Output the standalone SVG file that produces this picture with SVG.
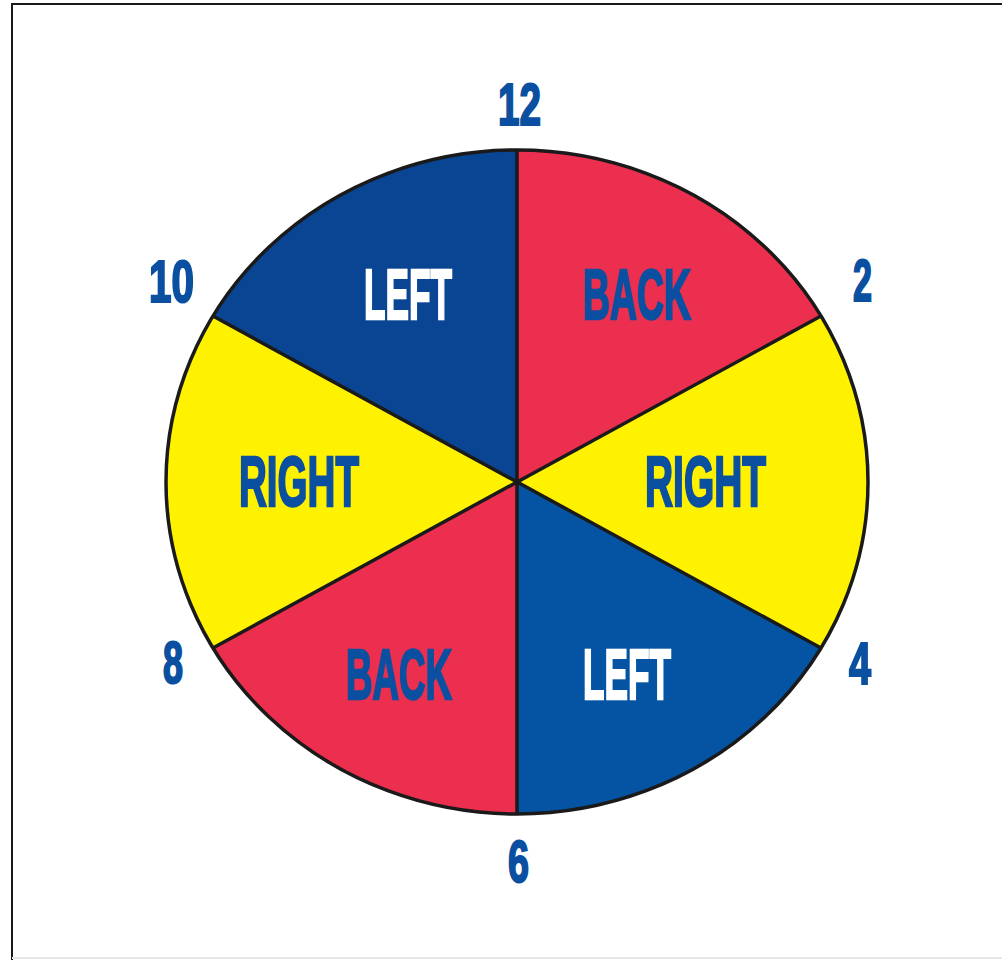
<svg xmlns="http://www.w3.org/2000/svg" width="1002" height="960" viewBox="0 0 1002 960">
<style>
.lbl{font-family:"Liberation Sans",Arial,sans-serif;font-weight:bold;font-size:70px;stroke-width:2.4;stroke-linejoin:miter}
.num{font-family:"Liberation Sans",Arial,sans-serif;font-weight:bold;font-size:59px;fill:#0b50a0;stroke:#0b50a0;stroke-width:2.2}
.blue{fill:#0b50a0;stroke:#0b50a0}
.white{fill:#ffffff;stroke:#ffffff}
.edge{fill:none;stroke:#1a1a1a;stroke-width:3.5}
</style>
<rect width="1002" height="960" fill="#ffffff"/>
<path d="M12,960 V4 H1002" fill="none" stroke="#1a1a1a" stroke-width="2"/>
<line x1="12" y1="958" x2="1002" y2="958" stroke="#e6e6e6" stroke-width="2"/>
<g id="wheel">
<g id="sector-left-top">
<path d="M517,482 L517,150 A351,332 0 0 0 213,316 Z" fill="#0a4593"/>
<text class="lbl white" x="364" y="319" textLength="88" lengthAdjust="spacingAndGlyphs">LEFT</text>
</g>
<g id="sector-back-top">
<path d="M517,482 L517,150 A351,332 0 0 1 821,316 Z" fill="#ec2f4e"/>
<text class="lbl blue" x="583" y="319" textLength="108" lengthAdjust="spacingAndGlyphs">BACK</text>
</g>
<g id="sector-right-right">
<path d="M517,482 L821,316 A351,332 0 0 1 821,648 Z" fill="#fff200"/>
<text class="lbl blue" x="645" y="506" textLength="121" lengthAdjust="spacingAndGlyphs">RIGHT</text>
</g>
<g id="sector-left-bottom">
<path d="M517,482 L821,648 A351,332 0 0 1 517,814 Z" fill="#0553a3"/>
<text class="lbl white" x="583" y="699" textLength="88" lengthAdjust="spacingAndGlyphs">LEFT</text>
</g>
<g id="sector-back-bottom">
<path d="M517,482 L517,814 A351,332 0 0 1 213,648 Z" fill="#ec2f4e"/>
<text class="lbl blue" x="346" y="699" textLength="106" lengthAdjust="spacingAndGlyphs">BACK</text>
</g>
<g id="sector-right-left">
<path d="M517,482 L213,648 A351,332 0 0 1 213,316 Z" fill="#fff200"/>
<text class="lbl blue" x="239" y="506" textLength="120" lengthAdjust="spacingAndGlyphs">RIGHT</text>
</g>
</g>
<g id="connectors">
<ellipse class="edge" cx="517" cy="482" rx="351" ry="332"/>
<line class="edge" x1="517" y1="150" x2="517" y2="814"/>
<line class="edge" x1="213" y1="316" x2="821" y2="648"/>
<line class="edge" x1="821" y1="316" x2="213" y2="648"/>
</g>
<g id="clock-numbers">
<text id="n12" class="num" x="498" y="125" textLength="43" lengthAdjust="spacingAndGlyphs">12</text>
<text id="n10" class="num" x="149" y="302" textLength="45" lengthAdjust="spacingAndGlyphs">10</text>
<text id="n2" class="num" x="853" y="301" textLength="19" lengthAdjust="spacingAndGlyphs">2</text>
<text id="n8" class="num" x="163" y="683" textLength="20" lengthAdjust="spacingAndGlyphs">8</text>
<text id="n4" class="num" x="849" y="684" textLength="22" lengthAdjust="spacingAndGlyphs">4</text>
<text id="n6" class="num" x="508" y="882" textLength="21" lengthAdjust="spacingAndGlyphs">6</text>
</g>
</svg>
